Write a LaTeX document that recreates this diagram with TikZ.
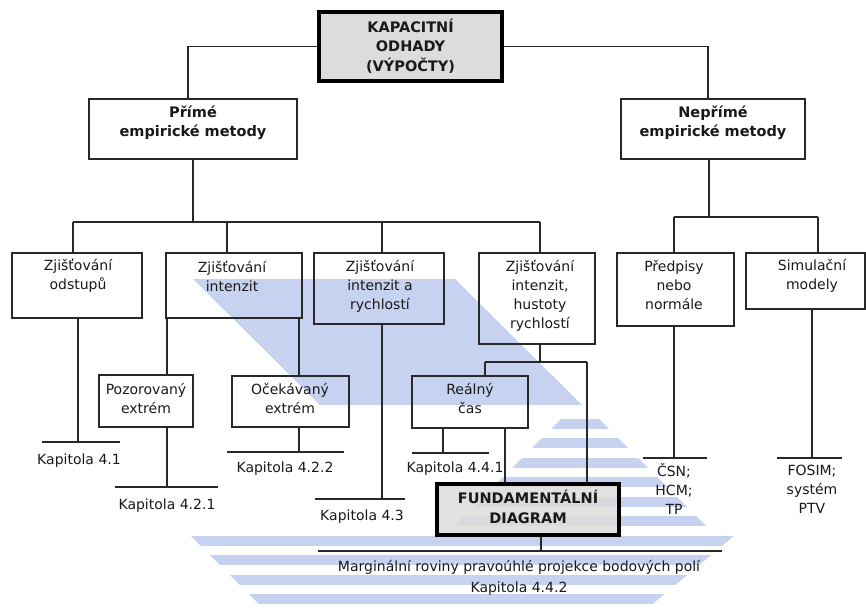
\documentclass[tikz,border=0pt]{standalone}
\usepackage{fontspec}
\setmainfont{DejaVu Sans}
\definecolor{wm}{RGB}{198,210,240}
\definecolor{ln}{RGB}{40,40,40}
\definecolor{tx}{RGB}{25,25,25}
\definecolor{gbox}{RGB}{220,220,220}
\begin{document}
\begin{tikzpicture}[x=1pt,y=-1pt,
  box/.style={draw=ln, line width=1.3pt, inner sep=0pt},
  thickbox/.style={draw=black, line width=4.5pt, inner sep=0pt, fill=gbox},
  conn/.style={draw=ln, line width=1.3pt},
  txt/.style={align=center, inner sep=0pt, text=tx, font=\fontsize{14}{19}\selectfont},
  btxt/.style={align=center, inner sep=0pt, text=tx, font=\fontsize{14.5}{19.5}\selectfont\bfseries}]
\useasboundingbox (0,0) rectangle (866,607);
% watermark
\fill[wm] (193,279) -- (455,279) -- (582,405) -- (320,405) -- cycle;
\begin{scope}
  \clip (580,400) -- (715,535) -- (445,535) -- cycle
        (190,535) -- (735,535) -- (649,607) -- (262,607) -- cycle;
  \foreach \yy in {418.5,438,457.5,477,496.5,516,535.5,555,574.5,594}
    \fill[wm] (0,\yy) rectangle (866,\yy+10);
\end{scope}
% boxes
\node[thickbox, minimum width=183pt, minimum height=69pt] (top) at (410.5,46.5) {};
\node[box, minimum width=208pt, minimum height=60pt] (prime) at (193,129) {};
\node[box, minimum width=184pt, minimum height=60pt] (neprime) at (713,129) {};
\node[box, minimum width=130pt, minimum height=65pt] (odstupu) at (77,285.5) {};
\node[box, minimum width=136pt, minimum height=65pt] (intenzit) at (234,285.5) {};
\node[box, minimum width=130pt, minimum height=71pt] (intrych) at (379,288.5) {};
\node[box, minimum width=116pt, minimum height=91pt] (hustoty) at (537,298.5) {};
\node[box, minimum width=117pt, minimum height=73pt] (predpisy) at (675.5,289.5) {};
\node[box, minimum width=119pt, minimum height=56pt] (simul) at (805.5,281) {};
\node[box, minimum width=94pt, minimum height=52pt] (pozor) at (146,401) {};
\node[box, minimum width=117pt, minimum height=51pt] (ocek) at (290.5,401.5) {};
\node[box, minimum width=116pt, minimum height=52pt] (realny) at (470,402) {};
\node[thickbox, line width=4pt, fill opacity=0.85, minimum width=182pt, minimum height=51pt] (fund) at (528,509.5) {};
% box texts
\node[btxt] (t-top) at (410.5,46) {KAPACITNÍ\\ODHADY\\(VÝPOČTY)};
\node[btxt] (t-prime) at (193,123) {Přímé\\empirické metody};
\node[btxt] (t-neprime) at (713,123) {Nepřímé\\empirické metody};
\node[txt] (t-odstupu) at (78,276) {Zjišťování\\odstupů};
\node[txt] (t-intenzit) at (232,276) {Zjišťování\\intenzit};
\node[txt] (t-intrych) at (380,286) {Zjišťování\\intenzit a\\rychlostí};
\node[txt] (t-hustoty) at (540,296) {Zjišťování\\intenzit,\\hustoty\\rychlostí};
\node[txt] (t-predpisy) at (674,285) {Předpisy\\nebo\\normále};
\node[txt] (t-simul) at (812,276) {Simulační\\modely};
\node[txt] (t-pozor) at (146,398) {Pozorovaný\\extrém};
\node[txt] (t-ocek) at (290,398) {Očekávaný\\extrém};
\node[txt] (t-realny) at (470,398) {Reálný\\čas};
\node[btxt] (t-fund) at (528,507) {FUNDAMENTÁLNÍ\\DIAGRAM};
% top connectors
\draw[conn] (top.west) -| ([xshift=-5pt]prime.north);
\draw[conn] (top.east) -| ([xshift=-5pt]neprime.north);
% left bus
\coordinate (bL) at (73,222);
\coordinate (bR) at (540,222);
\draw[conn] (prime.south) -- (prime.south |- bL);
\draw[conn] (bL) -- (bR);
\draw[conn] (bL) -- (bL |- odstupu.north);
\draw[conn] ([xshift=-7pt]intenzit.north |- bL) -- ([xshift=-7pt]intenzit.north);
\draw[conn] ([xshift=3pt]intrych.north |- bL) -- ([xshift=3pt]intrych.north);
\draw[conn] (bR) -- (bR |- hustoty.north);
% right bus
\coordinate (cL) at (674,217);
\coordinate (cR) at (818,217);
\draw[conn] ([xshift=-4pt]neprime.south) -- ([xshift=-4pt]neprime.south |- cL);
\draw[conn] (cL) -- (cR);
\draw[conn] (cL) -- (cL |- predpisy.north);
\draw[conn] (cR) -- (cR |- simul.north);
% vertical positions
\coordinate (xa) at (167,0);
\coordinate (xb) at (299,0);
\coordinate (xc) at (382,0);
\coordinate (xd) at (443,0);
\coordinate (xe) at (505,0);
\coordinate (xf) at (587,0);
\coordinate (xg) at (485,0);
\coordinate (xh) at (812,0);
\coordinate (xi) at (541,0);
\coordinate (xj) at (78,0);
% odstupu -> Kapitola 4.1
\coordinate (k1a) at (42,442); \coordinate (k1b) at (120,442);
\draw[conn] (odstupu.south -| xj) -- (xj |- k1a);
\draw[conn] (k1a) -- (k1b);
\node[txt] (kap41) at (79,461) {Kapitola 4.1};
% intenzit -> pozor, ocek
\draw[conn] (intenzit.south -| xa) -- (pozor.north -| xa);
\draw[conn] (intenzit.south -| xb) -- (ocek.north -| xb);
\coordinate (k2a) at (115,487); \coordinate (k2b) at (218,487);
\draw[conn] (pozor.south -| xa) -- (xa |- k2a);
\draw[conn] (k2a) -- (k2b);
\node[txt] (kap421) at (167,506) {Kapitola 4.2.1};
\coordinate (k3a) at (227,452); \coordinate (k3b) at (344,452);
\draw[conn] (ocek.south -| xb) -- (xb |- k3a);
\draw[conn] (k3a) -- (k3b);
\node[txt] (kap422) at (285,469) {Kapitola 4.2.2};
% intrych -> Kapitola 4.3
\coordinate (k4a) at (315,499); \coordinate (k4b) at (405,499);
\draw[conn] (intrych.south -| xc) -- (xc |- k4a);
\draw[conn] (k4a) -- (k4b);
\node[txt] (kap43) at (362,517) {Kapitola 4.3};
% hustoty -> realny, fund
\coordinate (ha) at (485,362); \coordinate (hb) at (587,362);
\draw[conn] (hustoty.south -| bR) -- (bR |- ha);
\draw[conn] (ha) -- (hb);
\draw[conn] (ha) -- (realny.north -| xg);
\draw[conn] (hb) -- (fund.north -| xf);
% realny -> Kapitola 4.4.1, fund
\coordinate (k5a) at (412,453); \coordinate (k5b) at (489,453);
\draw[conn] (realny.south -| xd) -- (xd |- k5a);
\draw[conn] (k5a) -- (k5b);
\node[txt] (kap441) at (455,469) {Kapitola 4.4.1};
\draw[conn] (realny.south -| xe) -- (fund.north -| xe);
% predpisy / simul
\coordinate (k6a) at (643,458); \coordinate (k6b) at (707,458);
\draw[conn] (predpisy.south -| cL) -- (cL |- k6a);
\draw[conn] (k6a) -- (k6b);
\node[txt] (csn) at (674,489) {ČSN;\\HCM;\\TP};
\coordinate (k7a) at (777,458); \coordinate (k7b) at (842,458);
\draw[conn] (simul.south -| xh) -- (xh |- k7a);
\draw[conn] (k7a) -- (k7b);
\node[txt] (fosim) at (812,489) {FOSIM;\\systém\\PTV};
% fund -> marginal
\coordinate (k8a) at (318,551); \coordinate (k8b) at (722,551);
\draw[conn] (fund.south -| xi) -- (xi |- k8a);
\draw[conn] (k8a) -- (k8b);
\node[txt, font=\fontsize{14}{21}\selectfont] (marg) at (519,578) {Marginální roviny pravoúhlé projekce bodových polí\\Kapitola 4.4.2};
\end{tikzpicture}
\end{document}
